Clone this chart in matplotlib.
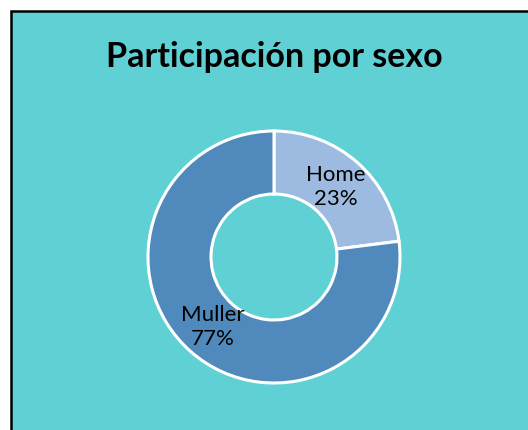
import matplotlib
matplotlib.use("Agg")
import matplotlib.pyplot as plt
from matplotlib.patches import Rectangle
import numpy as np

# datos
sexo = ["Home", "Muller"]
porcentaje = [23, 77]
colores = ["#9dbbe1", "#508abd"]
fondo = "#5fd1d4"

plt.rcParams['font.family'] = ['Lato', 'DejaVu Sans']

fig = plt.figure(figsize=(5.28, 4.30), dpi=100, facecolor="white")

# marco del grafico
fig.patches.append(Rectangle((10.5 / 528, -0.1), 1.1, 1.1 - 11.5 / 430,
                             transform=fig.transFigure, facecolor=fondo,
                             edgecolor="black", linewidth=1.8, zorder=-5))

fig.text(274 / 528, 1 - 57 / 430, "Participación por sexo", ha="center", va="center",
         fontsize=24.5, fontweight="bold", color="black")

ax = fig.add_axes([(274 - 126) / 528, 1 - (257 + 126) / 430, 252 / 528, 252 / 430])
ax.set_facecolor("none")
ax.set_zorder(2)
wedges, _ = ax.pie(porcentaje, colors=colores, startangle=90, counterclock=False,
                   radius=1, wedgeprops=dict(width=0.5, edgecolor="white", linewidth=2.2))
for w in wedges:
    w.set_clip_on(False)

# etiquetas en medio del anillo
for w, s, p in zip(wedges, sexo, porcentaje):
    ang = np.deg2rad((w.theta1 + w.theta2) / 2)
    r = 0.74
    ax.text(r * np.cos(ang), r * np.sin(ang), f"{s}\n{p}%", ha="center", va="center",
            fontsize=16, color="black", linespacing=1.25)

ax.set_xlim(-1, 1)
ax.set_ylim(-1, 1)
ax.set_aspect("equal")
ax.axis("off")

plt.savefig("out.png", dpi=100, facecolor=fig.get_facecolor())
